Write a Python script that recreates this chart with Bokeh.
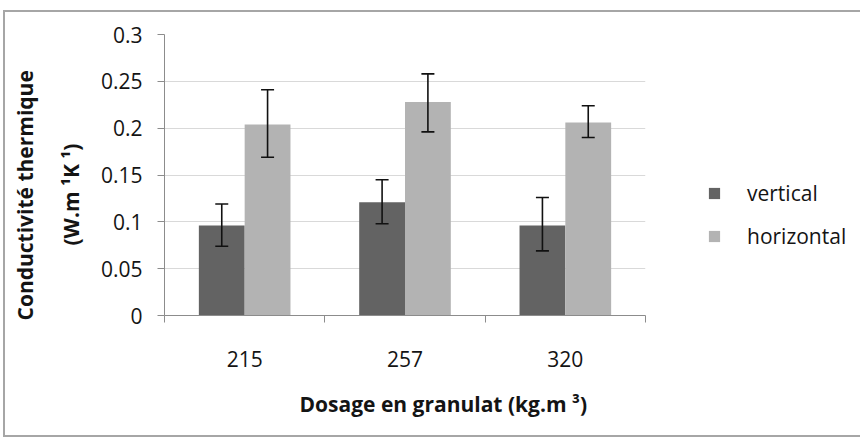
from bokeh.embed import file_html
from bokeh.models import (ColumnDataSource, FixedTicker, Legend, LegendItem,
                          Range1d, TeeHead, Title, Whisker)
from bokeh.plotting import figure
from bokeh.resources import INLINE
from bokeh.transform import dodge

# Thermal conductivity by aggregate dosage, measured in two directions
categories = ["215", "257", "320"]
vertical = [0.096, 0.121, 0.096]
horizontal = [0.204, 0.228, 0.206]
vertical_lower = [0.074, 0.098, 0.069]
vertical_upper = [0.119, 0.145, 0.126]
horizontal_lower = [0.169, 0.196, 0.190]
horizontal_upper = [0.241, 0.258, 0.224]

y_ticks = [0, 0.05, 0.1, 0.15, 0.2, 0.25, 0.3]
y_tick_labels = ["0", "0.05", "0.1", "0.15", "0.2", "0.25", "0.3"]

FONT = "Open Sans"
DARK = "#636363"
LIGHT = "#b3b3b3"
TEXT = "#141414"
AXIS = "#8c8c8c"

n = len(categories)
centers = [i + 0.5 for i in range(n)]
bar_w = 1 / 3.5  # two bars plus a 150 % gap per category

src = ColumnDataSource(dict(
    x=centers,
    vertical=vertical,
    horizontal=horizontal,
    v_lo=vertical_lower,
    v_hi=vertical_upper,
    h_lo=horizontal_lower,
    h_hi=horizontal_upper,
))

p = figure(
    width=850, height=419,
    x_range=Range1d(0, n), y_range=Range1d(0, 0.3),
    output_backend="svg", toolbar_location=None,
    min_border_left=158, min_border_right=211,
    min_border_top=22, min_border_bottom=116,
    frame_width=481, frame_height=281,
)
p.styles = {"border": "2px solid #a6a6a6", "margin": "10px 0 0 3px"}
p.outline_line_color = None
p.xgrid.visible = False
p.ygrid.grid_line_color = "#d9d9d9"
p.ygrid.ticker = FixedTicker(ticks=y_ticks)

r_v = p.vbar(x=dodge("x", -bar_w / 2, range=p.x_range), top="vertical",
             width=bar_w, source=src, fill_color=DARK, line_color=None)
r_h = p.vbar(x=dodge("x", bar_w / 2, range=p.x_range), top="horizontal",
             width=bar_w, source=src, fill_color=LIGHT, line_color=None)

for off, lo, hi in ((-bar_w / 2, "v_lo", "v_hi"), (bar_w / 2, "h_lo", "h_hi")):
    w = Whisker(base=dodge("x", off, range=p.x_range), lower=lo, upper=hi,
                source=src, line_color="#111111", line_width=1.6, level="overlay",
                upper_head=TeeHead(size=13, line_color="#111111", line_width=1.6),
                lower_head=TeeHead(size=13, line_color="#111111", line_width=1.6))
    p.add_layout(w)

# y axis
ya = p.yaxis[0]
ya.ticker = FixedTicker(ticks=y_ticks)
ya.major_label_overrides = dict(zip(y_ticks, y_tick_labels))
ya.axis_line_color = AXIS
ya.major_tick_line_color = AXIS
ya.major_tick_out = 7
ya.major_tick_in = 0
ya.minor_tick_line_color = None
ya.major_label_standoff = 15
ya.major_label_text_font = FONT
ya.major_label_text_font_size = "21px"
ya.major_label_text_color = TEXT

# x axis: labels at category centres, tick marks at category boundaries
xa = p.xaxis[0]
xa.ticker = FixedTicker(ticks=centers, minor_ticks=list(range(n + 1)))
xa.major_label_overrides = dict(zip(centers, categories))
xa.axis_line_color = AXIS
xa.major_tick_line_color = None
xa.major_tick_out = 0
xa.major_tick_in = 0
xa.minor_tick_line_color = AXIS
xa.minor_tick_out = 7
xa.minor_tick_in = 0
xa.major_label_standoff = 28
xa.major_label_text_font = FONT
xa.major_label_text_font_size = "21px"
xa.major_label_text_color = TEXT

# axis titles
title_style = dict(text_font=FONT, text_font_style="bold",
                   text_font_size="21px", text_color=TEXT, align="left")
p.add_layout(Title(text="Dosage en granulat (kg.m \u00b3)", offset=135,
                   standoff=36, **title_style), "below")
p.add_layout(Title(text="(W.m \u00b9K \u00b9)", offset=70,
                   standoff=25, **title_style), "left")
p.add_layout(Title(text="Conductivit\u00e9 thermique", offset=-5,
                   standoff=7, **title_style), "left")

legend = Legend(
    items=[LegendItem(label="vertical", renderers=[r_v]),
           LegendItem(label="horizontal", renderers=[r_h])],
    location=(62, 65),
    glyph_width=14, glyph_height=14, label_standoff=26,
    spacing=15, padding=0, margin=0,
    border_line_color=None, background_fill_alpha=0,
    label_text_font=FONT, label_text_font_size="21px", label_text_color=TEXT,
)
p.add_layout(legend, "right")

open("out.html", "w").write(file_html(p, INLINE))
